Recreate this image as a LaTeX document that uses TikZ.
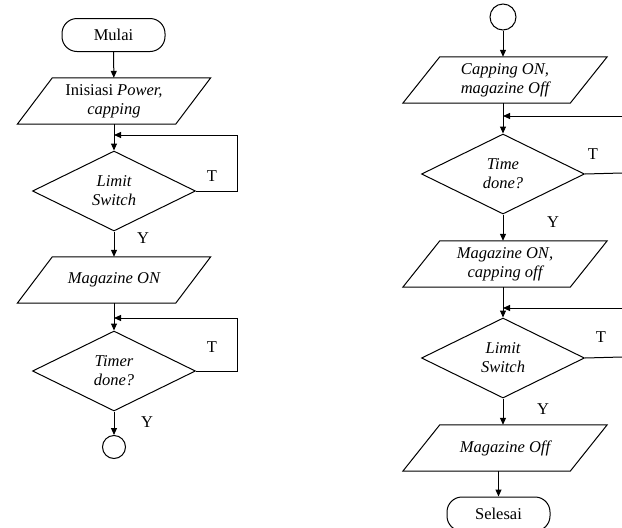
\documentclass[tikz,border=0pt]{standalone}
\usepackage{fontspec}
\setmainfont{Liberation Serif}
\usetikzlibrary{shapes.geometric,arrows.meta}

\begin{document}
\begin{tikzpicture}[x=1pt,y=-1pt,
  every node/.style={font=\fontsize{16.5}{19}\selectfont},
  base/.style={draw, line width=1pt},
  terminal/.style={base, rectangle, rounded corners=15pt, minimum width=103pt, minimum height=33pt, inner sep=0pt},
  io/.style={minimum width=#1, minimum height=46pt, inner sep=0pt, align=center, font=\fontsize{16.5}{19}\selectfont\itshape},
  decision/.style={base, diamond, minimum width=163pt, minimum height=80pt, inner sep=0pt, align=center, font=\fontsize{16.5}{19}\selectfont\itshape},
  connector/.style={base, circle, inner sep=0pt, minimum size=#1},
  arr/.style={line width=1pt, -{Triangle[length=7pt,width=6pt]}},
  line/.style={line width=1pt},
  lbl/.style={inner sep=0pt}
]
\useasboundingbox (0,0) rectangle (622,528);

% ---------- left column ----------
\node[terminal] (start) at (113.5,35) {Mulai};
\node[io=158pt] (p1) at (114,101) {\textup{Inisiasi} Power,\\ capping};
\node[decision] (d1) at (114,191) {Limit\\ Switch};
\node[io=158pt] (p2) at (114,280) {Magazine ON};
\node[decision] (d2) at (114,371) {Timer\\ done?};
\node[connector=23pt] (c1) at (114,447) {};

% ---------- right column ----------
\node[connector=26pt] (c2) at (503,17) {};
\node[io=167pt] (p3) at (505,80) {Capping ON,\\ magazine Off};
\node[decision] (d3) at (503,174) {Time\\ done?};
\node[io=167pt] (p4) at (505,264) {Magazine ON,\\ capping off};
\node[decision] (d4) at (503,358) {Limit\\ Switch};
\node[io=167pt] (p5) at (505,448) {Magazine Off};
\node[terminal, minimum height=34pt] (stop) at (498.5,514) {Selesai};

% parallelogram outlines around the input/output nodes
\foreach \n/\s in {p1/35, p2/35, p3/37, p4/37, p5/37}{
  \draw[base] ([xshift=\s/2*1pt]\n.north west) -- ([xshift=\s/2*1pt]\n.north east)
    -- ([xshift=-\s/2*1pt]\n.south east) -- ([xshift=-\s/2*1pt]\n.south west) -- cycle;
}

% ---------- left flow ----------
\draw[arr] (start) -- (p1);
\draw[arr] (p1) -- (d1);
\draw[arr] (d1) -- (p2);
\draw[arr] (p2) -- (d2);
\draw[arr] (d2) -- (c1);

\coordinate (r1) at (237,135);
\coordinate (j1) at (114,135);
\draw[arr] (d1.east) -| (r1) -- (j1);
\coordinate (r2) at (237,318);
\coordinate (j2) at (114,318);
\draw[arr] (d2.east) -| (r2) -- (j2);

\node[lbl] (t1) at (212,176) {T};
\node[lbl] (y1) at (143,238) {Y};
\node[lbl] (t2) at (212,347) {T};
\node[lbl] (y2) at (147,422) {Y};

% ---------- right flow ----------
\draw[arr] (c2) -- (c2 |- p3.north);
\draw[arr] (d3.north |- p3.south) -- (d3.north);
\draw[arr] (d3.south) -- (d3.south |- p4.north);
\draw[arr] (d4.north |- p4.south) -- (d4.north);
\draw[arr] (d4.south) -- (d4.south |- p5.north);
\draw[arr] (stop.north |- p5.south) -- (stop.north);

\coordinate (e3) at (622,173);
\draw[line] (d3.east) -- (e3);
\coordinate (f3) at (622,116);
\coordinate (j3) at (503,116);
\draw[arr] (f3) -- (j3);

\coordinate (e4) at (622,357);
\draw[line] (d4.east) -- (e4);
\coordinate (f4) at (622,308);
\coordinate (j4) at (503,308);
\draw[arr] (f4) -- (j4);

\node[lbl] (t3) at (593,154) {T};
\node[lbl] (y3) at (553,222) {Y};
\node[lbl] (t4) at (601,337) {T};
\node[lbl] (y4) at (543,409) {Y};
\end{tikzpicture}
\end{document}
